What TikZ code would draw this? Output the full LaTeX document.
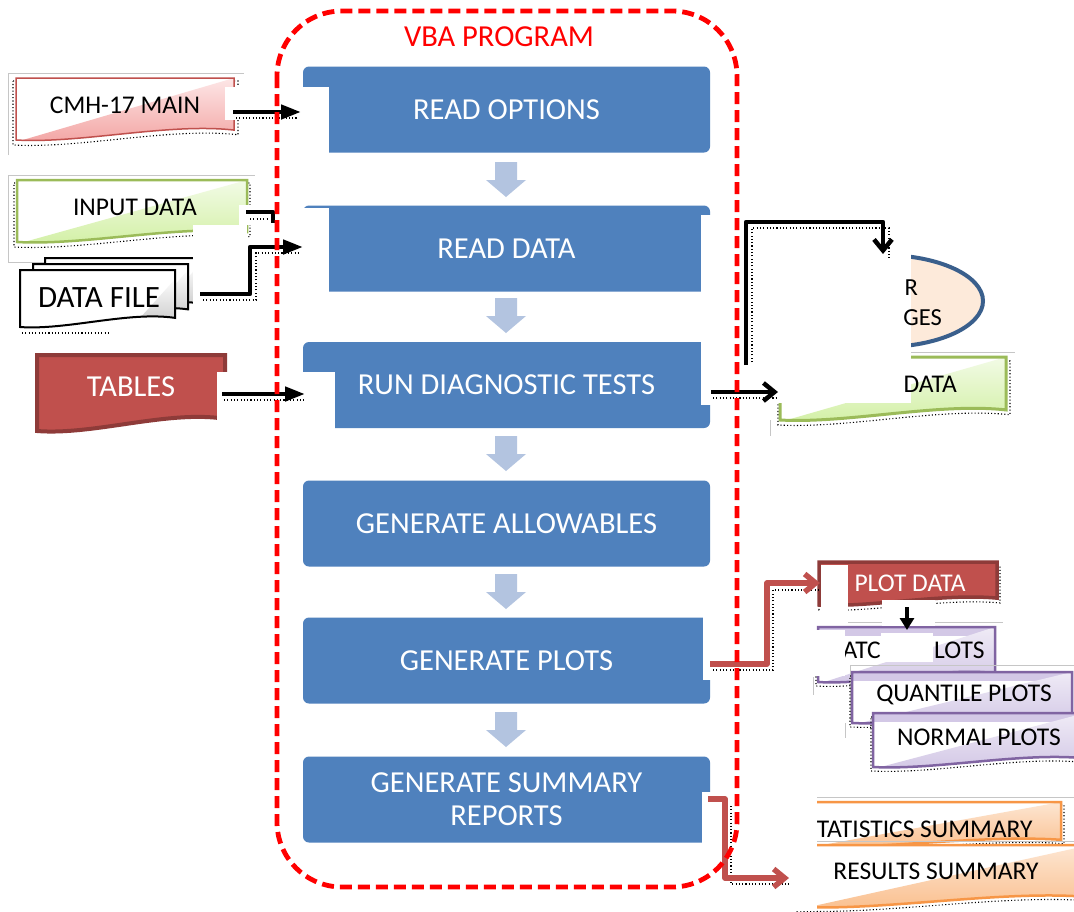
\documentclass[tikz,border=0pt]{standalone}
\usepackage{fontspec}
\setmainfont{Carlito}
\usetikzlibrary{arrows.meta,shapes.geometric}

\definecolor{blockblue}{HTML}{4F81BD}
\definecolor{steparrow}{HTML}{B3C4E0}
\definecolor{framered}{HTML}{FF0000}
\definecolor{brick}{HTML}{C0504D}
\definecolor{brickdark}{HTML}{8E3B39}
\definecolor{pinkL}{HTML}{FDE6E6}
\definecolor{pinkD}{HTML}{F3A6A5}
\definecolor{leaf}{HTML}{9BBB59}
\definecolor{leafL}{HTML}{F2FBE6}
\definecolor{leafD}{HTML}{D3F0A6}
\definecolor{lilac}{HTML}{8064A2}
\definecolor{lilacL}{HTML}{EFEBF6}
\definecolor{lilacD}{HTML}{D3C8E6}
\definecolor{amber}{HTML}{F79646}
\definecolor{amberL}{HTML}{FDE6D2}
\definecolor{amberD}{HTML}{FAC090}
\definecolor{peach}{HTML}{FDEADA}
\definecolor{navyedge}{HTML}{3A5F8C}

% document outline with a wavy bottom edge: x1, y1 (top), x2, y2 (bottom)
\tikzset{doc/.style n args={4}{insert path={(#1,#2) -- (#3,#2) -- (#3,{#4-0.16*(#4-#2)})
  .. controls ({#1+0.7*(#3-#1)},{#4-0.28*(#4-#2)}) and ({#1+0.3*(#3-#1)},{#4+0.06*(#4-#2)}) .. (#1,#4) -- cycle}}}

% document box: white upper-left half, shaded lower-right half
\newcommand{\docbox}[8]{%
  \fill[white, doc={#1}{#2}{#3}{#4}];
  \begin{scope}
    \clip[doc={#1}{#2}{#3}{#4}];
    \shade[top color=#6, bottom color=#7] (#1,{#4+2}) -- (#3,#2) -- ({#3+2},{#4+2}) -- cycle;
  \end{scope}
  \draw[#5, line width=#8, doc={#1}{#2}{#3}{#4}];}

% lilac plot box with a tinted top band
\newcommand{\plotbox}[4]{%
  \draw[shadowdots, shift={(-2,4)}, doc={#1}{#2}{#3}{#4}];
  \fill[white, doc={#1}{#2}{#3}{#4}];
  \begin{scope}
    \clip[doc={#1}{#2}{#3}{#4}];
    \fill[lilacD] (#1,#2) rectangle (#3,{#2+9});
    \shade[top color=lilacL, bottom color=lilacD] (#1,{#4+2}) -- (#3,#2) -- ({#3+2},{#4+2}) -- cycle;
  \end{scope}
  \draw[lilac, line width=2.5pt, doc={#1}{#2}{#3}{#4}];}

% one sheet of the stacked data file
\newcommand{\sheet}[4]{%
  \fill[white, doc={#1}{#2}{#3}{#4}];
  \begin{scope}
    \clip[doc={#1}{#2}{#3}{#4}];
    \shade[top color=white, bottom color=gray!45] ({#3-45},{#4+2}) -- ({#3+2},{#4-50}) -- ({#3+2},{#4+2}) -- cycle;
  \end{scope}
  \draw[black, line width=2pt, doc={#1}{#2}{#3}{#4}];}

% light block arrow between program steps: centre x, top y
\newcommand{\stepdown}[2]{%
  \fill[steparrow] ({#1-11},#2) -- ({#1+11},#2) -- ({#1+11},{#2+18}) -- ({#1+20},{#2+18})
    -- (#1,{#2+35}) -- ({#1-20},{#2+18}) -- ({#1-11},{#2+18}) -- cycle;}

\begin{document}
\begin{tikzpicture}[x=1pt,y=-1pt,
  blk/.style={fill=blockblue, rounded corners=6pt, minimum width=407pt, minimum height=86pt,
    inner sep=0pt, text=white, font=\fontsize{30.5}{33}\selectfont, align=center},
  lbl/.style={font=\fontsize{25.5}{30}\selectfont, inner sep=0pt},
  wire/.style={line width=4.5pt, black, line join=round},
  redwire/.style={line width=5.5pt, brick, line join=round},
  tipA/.style={-{Triangle[length=20pt,width=14pt]}},
  tipB/.style={-{Straight Barb[length=11pt,width=18pt]}},
  shadowdots/.style={black, line width=1.1pt, dash pattern=on 1.1pt off 2.2pt},
  patch/.style={fill=white},
  frame/.style={gray!45, line width=0.8pt}]

\useasboundingbox (0,0) rectangle (1074,911);
\fill[white] (0,0) rectangle (1074,911);

% ---------------- program steps ----------------
\node[blk] (b1) at (506.5,109.5) {READ OPTIONS};
\node[blk] (b2) at (506.5,248.5) {READ DATA};
\node[blk] (b3) at (506.5,385) {RUN DIAGNOSTIC TESTS};
\node[blk] (b4) at (506.5,523.5) {GENERATE ALLOWABLES};
\node[blk] (b5) at (506.5,660.5) {GENERATE PLOTS};
\node[blk] (b6) at (506.5,799.5) {GENERATE SUMMARY\\REPORTS};

\stepdown{506}{162}
\stepdown{506}{298}
\stepdown{506}{436}
\stepdown{506}{574}
\stepdown{506}{712}

% ---------------- inputs ----------------
\draw[frame] (8,155) -- (8,73) -- (244,73);
\draw[frame] (8,262) -- (8,175) -- (255,175);
\draw[frame] (8,262) -- (45,262);

\draw[shadowdots, doc={13}{81}{238}{145}];
\docbox{16}{78}{234}{140}{brick}{pinkL}{pinkD}{1.5pt}
\node[lbl] (cmh) at (125,105) {CMH-17 MAIN};

\draw[shadowdots, doc={14}{183}{250}{247}];
\docbox{17}{180}{247}{242}{leaf}{leafL}{leafD}{2.5pt}
\node[lbl] (indata) at (135,207) {INPUT DATA};

\draw[shadowdots] (22,333) -- (110,333);
\sheet{45}{258}{200}{312}
\sheet{33}{264}{188}{318}
\sheet{20}{270}{175}{327}
\node[lbl, font=\fontsize{31}{36}\selectfont] (dfile) at (99,298) {DATA FILE};

\fill[brick, doc={37}{355}{225}{431}];
\draw[brickdark, line width=4pt, doc={37}{355}{225}{431}];
\node[lbl, text=white, font=\fontsize{30.5}{36}\selectfont] (tables) at (131,387) {TABLES};

% ---------------- outputs ----------------
\node[ellipse, minimum width=200pt, minimum height=92pt, draw=navyedge, fill=peach,
  line width=4pt, inner sep=0pt] (err) at (883,301) {};

\draw[frame] (911,352) -- (1015,352);
\draw[frame] (770,420) -- (770,436);
\draw[shadowdots, doc={778}{361}{1010}{425}];
\docbox{780}{357}{1006}{420}{leaf}{leafL}{leafD}{3pt}

\draw[frame] (848,622) -- (1003,622);
\draw[frame] (813,677) -- (813,695);
\draw[shadowdots, doc={819}{566}{1000}{610}];
\fill[brick, doc={819}{562}{997}{605}];
\draw[brickdark, line width=3.5pt, doc={819}{562}{997}{605}];
\node[lbl, text=white] (plotdata) at (910,583) {PLOT DATA};

\plotbox{818}{627}{995}{682}
\node[lbl, anchor=east] (batchA) at (881,650) {BATC};
\node[lbl, anchor=west] (batchB) at (934,650) {LOTS};

\draw[frame] (850,720) -- (850,665) -- (1074,665);
\plotbox{852}{672}{1072}{723}
\node[lbl] (quant) at (964,695) {QUANTILE PLOTS};

\draw[frame] (845,723) -- (845,738);
\plotbox{873}{713}{1085}{767}
\node[lbl] (normal) at (979,737) {NORMAL PLOTS};

\draw[frame] (795,797) -- (1074,797);
\draw[shadowdots, doc={797}{805}{1064}{851}];
\docbox{800}{802}{1061}{847}{amber}{amberL}{amberD}{2.5pt}
\draw[frame] (817,841) -- (1074,841);
\draw[shadowdots, doc={797}{849}{1093}{911}];
\docbox{800}{845}{1090}{907}{amber}{amberL}{amberD}{2.5pt}
\node[lbl] (results) at (936,871) {RESULTS SUMMARY};
\node[lbl, anchor=west] (stats) at (805,829) {STATISTICS SUMMARY};

% ---------------- blanked areas ----------------
\fill[patch] (302,87) rectangle (329,153);
\fill[patch] (302,208) rectangle (329,293);
\fill[patch] (701,215) rectangle (711,293);
\fill[patch] (302,372) rectangle (335,430);
\fill[patch] (701,341) rectangle (711,405);
\fill[patch] (703,617) rectangle (711,680);
\fill[patch] (702,792) rectangle (711,844);

\fill[patch] (225,87) rectangle (302,120);
\fill[patch] (239,205) rectangle (277,225);
\fill[patch] (193,225) rectangle (247,257);
\fill[patch] (193,257) rectangle (251,307);
\fill[patch] (217,372) rectangle (302,434);

\fill[patch] (770,253) rectangle (911,403);
\fill[patch] (821,565) rectangle (848,612);
\fill[patch] (882,600) rectangle (935,626);
\fill[patch] (881,633) rectangle (933,662);
\fill[patch] (815,630) rectangle (845,676);
\fill[patch] (788,797) rectangle (817,911);

\node[lbl, anchor=base east, font=\fontsize{24.5}{28}\selectfont] (errA) at (918,295) {R};
\node[lbl, anchor=base east, font=\fontsize{24.5}{28}\selectfont] (errB) at (942,325) {GES};
\node[lbl, anchor=base east] (odata) at (957,392) {DATA};

% ---------------- connectors ----------------
\coordinate (cmhOut) at (233,112);   \coordinate (optIn) at (301,112);
\coordinate (inOut) at (246,212);    \coordinate (inStub) at (273,223);
\coordinate (dfOut) at (200,294);    \coordinate (dataIn) at (303,247);
\coordinate (tabOut) at (222,394);   \coordinate (diagIn) at (305,394);
\coordinate (diagOut) at (711,392);  \coordinate (diagTip) at (778,392);
\coordinate (loopFoot) at (746,365); \coordinate (errTop) at (883,254);
\coordinate (plotOut) at (710,664);  \coordinate (pdIn) at (820,583);
\coordinate (pdOut) at (907,607);    \coordinate (batchIn) at (907,630);
\coordinate (sumOut) at (708,799);   \coordinate (resIn) at (789,878);

\draw[shadowdots] (236,118) -- (298,118);
\draw[shadowdots] (250,219) -- (268,219);
\draw[shadowdots] (203,300) -- (256,300) -- (256,253) -- (300,253);
\draw[shadowdots] (224,400) -- (305,400);
\draw[shadowdots] (713,398) -- (776,398);
\draw[shadowdots] (752,362) -- (752,228) -- (889,228) -- (889,258);
\draw[shadowdots] (713,670) -- (773,670) -- (773,590) -- (818,590);
\draw[shadowdots] (731,806) -- (731,884) -- (790,884);

\draw[wire, tipA] (cmhOut) -- (optIn);
\draw[wire] (inOut) -| (inStub);
\draw[wire, tipA] (dfOut) -- ++(50,0) |- (dataIn);
\draw[wire, tipA] (tabOut) -- (diagIn);
\draw[wire, tipB] (diagOut) -- (diagTip);
\draw[wire, tipB] (loopFoot) |- (errTop |- 0,222) -- (errTop);
\draw[redwire, tipB] (plotOut) -- ++(57,0) |- (pdIn);
\draw[line width=4pt, -{Triangle[length=12pt,width=14pt]}] (pdOut) -- (batchIn);
\draw[redwire, tipB] (sumOut) -- ++(17,0) |- (resIn);

% ---------------- program boundary ----------------
\draw[framered, line width=4.8pt, dash pattern=on 12pt off 6pt, rounded corners=65pt]
  (277,11) rectangle (737,887);
\node[text=framered, font=\fontsize{30.5}{36}\selectfont, inner sep=0pt] (vba) at (499,37) {VBA PROGRAM};

\end{tikzpicture}
\end{document}
